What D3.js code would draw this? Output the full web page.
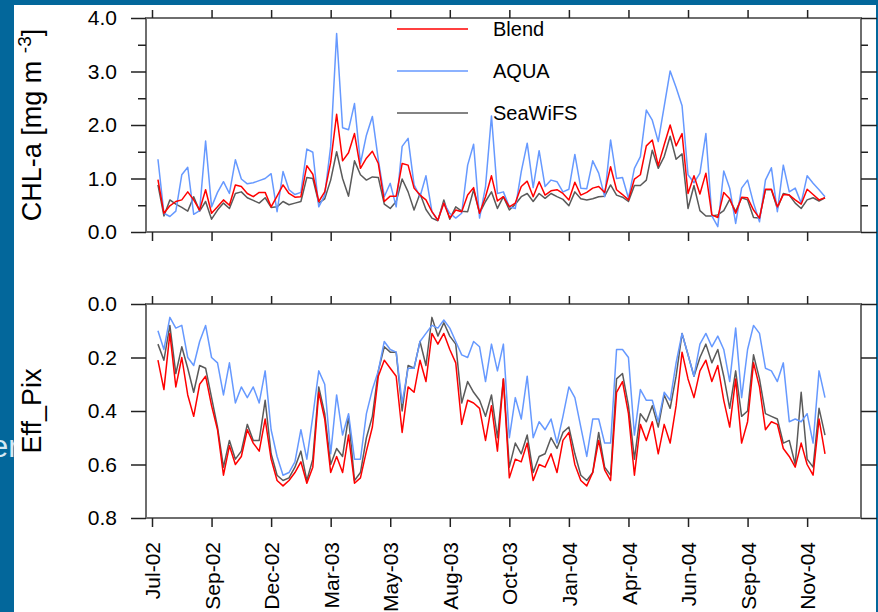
<!DOCTYPE html>
<html>
<head>
<meta charset="utf-8">
<script src="https://cdn.jsdelivr.net/npm/d3@7"></script>
<style>
  body { margin: 0; background: #03679b; overflow: hidden; }
  svg { display: block; font-family: "Liberation Sans", Arial, sans-serif; }
</style>
</head>
<body>
<div class="canvas"></div>
<script>
/////////////////////////////////////////////////////
///////////////// data ///////////////
/////////////////////////////////////////////////////

// one label every 10th composite
const tickLabels = ['Jul-02', 'Sep-02', 'Dec-02', 'Mar-03', 'May-03', 'Aug-03',
    'Oct-03', 'Jan-04', 'Apr-04', 'Jun-04', 'Sep-04', 'Nov-04'];

const seriesNames = ['Blend', 'AQUA', 'SeaWiFS'];

// CHL-a [mg m-3]
const chlBlend = [0.98, 0.35, 0.49, 0.57, 0.60, 0.75, 0.60, 0.41, 0.79, 0.35,
    0.47, 0.60, 0.50, 0.88, 0.85, 0.72, 0.66, 0.74, 0.74, 0.47,
    0.67, 0.88, 0.72, 0.65, 0.66, 1.24, 1.08, 0.57, 0.75, 1.30,
    2.20, 1.33, 1.48, 1.84, 1.19, 1.38, 1.51, 1.28, 0.57, 0.67,
    0.67, 1.28, 1.25, 0.82, 0.69, 0.60, 0.38, 0.22, 0.54, 0.26,
    0.41, 0.38, 0.69, 0.83, 0.35, 0.66, 1.05, 0.58, 0.66, 0.47,
    0.54, 0.85, 0.95, 0.66, 0.94, 0.69, 0.77, 0.79, 0.72, 0.60,
    0.93, 0.69, 0.74, 0.82, 0.85, 0.74, 1.22, 0.79, 0.70, 0.60,
    0.99, 1.07, 1.61, 1.72, 1.24, 1.63, 2.00, 1.61, 1.84, 0.72,
    1.05, 0.71, 1.10, 0.32, 0.27, 0.74, 0.62, 0.35, 0.65, 0.64,
    0.41, 0.26, 0.80, 0.80, 0.47, 0.70, 0.69, 0.60, 0.52, 0.80,
    0.70, 0.60, 0.64];
const chlAqua = [1.36, 0.35, 0.29, 0.39, 1.07, 1.21, 0.33, 0.40, 1.70, 0.47,
    0.74, 0.94, 0.72, 1.35, 0.99, 0.90, 0.92, 0.96, 1.00, 1.09,
    0.38, 1.13, 0.79, 0.70, 0.74, 1.55, 1.49, 0.47, 0.69, 1.60,
    3.71, 1.95, 1.91, 2.40, 1.28, 1.81, 2.16, 1.35, 0.66, 0.91,
    0.47, 1.60, 1.75, 0.88, 0.66, 1.05, 0.38, 0.22, 0.54, 0.35,
    0.26, 0.35, 1.25, 1.64, 0.26, 0.85, 2.17, 0.72, 0.75, 0.47,
    0.44, 1.13, 1.66, 0.83, 1.52, 0.85, 0.97, 0.94, 0.75, 0.80,
    1.45, 0.82, 0.81, 1.33, 1.10, 0.66, 1.72, 1.00, 1.02, 0.63,
    1.19, 1.41, 2.28, 2.09, 1.69, 2.35, 3.01, 2.70, 2.36, 1.07,
    0.92, 1.10, 1.84, 0.30, 0.10, 1.14, 0.82, 0.16, 0.82, 0.97,
    0.54, 0.19, 0.97, 1.20, 0.38, 1.25, 0.75, 0.82, 0.54, 1.05,
    0.91, 0.79, 0.66];
const chlSeawifs = [0.88, 0.30, 0.60, 0.52, 0.46, 0.39, 0.66, 0.39, 0.57, 0.24,
    0.41, 0.54, 0.44, 0.72, 0.75, 0.64, 0.59, 0.54, 0.64, 0.46,
    0.47, 0.57, 0.51, 0.54, 0.57, 1.02, 1.00, 0.54, 0.62, 0.97,
    1.50, 1.00, 0.67, 1.33, 1.07, 0.97, 1.03, 1.02, 0.52, 0.44,
    0.57, 0.99, 0.75, 0.41, 0.72, 0.42, 0.26, 0.21, 0.60, 0.24,
    0.47, 0.39, 0.38, 0.79, 0.35, 0.57, 0.75, 0.44, 0.66, 0.41,
    0.52, 0.66, 0.72, 0.57, 0.72, 0.63, 0.72, 0.66, 0.61, 0.49,
    0.75, 0.62, 0.60, 0.62, 0.66, 0.67, 0.88, 0.69, 0.65, 0.57,
    0.87, 0.87, 0.97, 1.53, 1.19, 1.41, 1.79, 1.36, 1.46, 0.44,
    0.87, 0.40, 0.30, 0.30, 0.32, 0.40, 0.61, 0.38, 0.64, 0.60,
    0.27, 0.26, 0.79, 0.79, 0.44, 0.72, 0.69, 0.54, 0.44, 0.60,
    0.64, 0.58, 0.64];

// Eff_Pix
const pixBlend = [0.21, 0.32, 0.11, 0.31, 0.20, 0.34, 0.42, 0.30, 0.27, 0.38,
    0.47, 0.64, 0.53, 0.60, 0.57, 0.47, 0.52, 0.55, 0.43, 0.58,
    0.66, 0.68, 0.66, 0.63, 0.59, 0.67, 0.61, 0.33, 0.43, 0.63,
    0.57, 0.63, 0.49, 0.67, 0.65, 0.55, 0.46, 0.27, 0.21, 0.24,
    0.27, 0.48, 0.31, 0.33, 0.21, 0.29, 0.11, 0.15, 0.11, 0.17,
    0.22, 0.45, 0.36, 0.37, 0.39, 0.51, 0.38, 0.55, 0.28, 0.65,
    0.58, 0.59, 0.52, 0.66, 0.60, 0.61, 0.56, 0.63, 0.51, 0.48,
    0.60, 0.66, 0.68, 0.63, 0.51, 0.62, 0.66, 0.33, 0.29, 0.41,
    0.64, 0.45, 0.51, 0.44, 0.56, 0.45, 0.52, 0.38, 0.18, 0.28,
    0.35, 0.25, 0.21, 0.29, 0.23, 0.36, 0.46, 0.28, 0.52, 0.44,
    0.22, 0.31, 0.47, 0.44, 0.45, 0.54, 0.57, 0.61, 0.52, 0.60,
    0.64, 0.43, 0.56];
const pixAqua = [0.10, 0.17, 0.05, 0.09, 0.08, 0.20, 0.23, 0.14, 0.08, 0.20,
    0.22, 0.34, 0.22, 0.37, 0.31, 0.35, 0.31, 0.37, 0.25, 0.47,
    0.57, 0.64, 0.63, 0.59, 0.47, 0.58, 0.42, 0.25, 0.30, 0.56,
    0.34, 0.49, 0.41, 0.58, 0.58, 0.41, 0.32, 0.25, 0.14, 0.17,
    0.18, 0.37, 0.24, 0.24, 0.14, 0.11, 0.08, 0.09, 0.06, 0.09,
    0.14, 0.19, 0.20, 0.14, 0.16, 0.29, 0.15, 0.25, 0.15, 0.50,
    0.35, 0.43, 0.27, 0.50, 0.44, 0.47, 0.43, 0.52, 0.42, 0.31,
    0.35, 0.46, 0.57, 0.43, 0.43, 0.52, 0.52, 0.17, 0.17, 0.20,
    0.49, 0.32, 0.36, 0.36, 0.44, 0.33, 0.36, 0.22, 0.11, 0.19,
    0.27, 0.15, 0.11, 0.16, 0.12, 0.17, 0.29, 0.09, 0.35, 0.17,
    0.08, 0.11, 0.24, 0.25, 0.29, 0.22, 0.44, 0.43, 0.44, 0.41,
    0.52, 0.25, 0.35];
const pixSeawifs = [0.15, 0.21, 0.08, 0.26, 0.16, 0.24, 0.33, 0.23, 0.24, 0.35,
    0.46, 0.61, 0.51, 0.58, 0.55, 0.45, 0.51, 0.51, 0.36, 0.56,
    0.64, 0.66, 0.65, 0.61, 0.55, 0.66, 0.58, 0.31, 0.41, 0.60,
    0.54, 0.57, 0.42, 0.66, 0.63, 0.50, 0.42, 0.25, 0.16, 0.18,
    0.18, 0.40, 0.23, 0.24, 0.14, 0.23, 0.05, 0.12, 0.07, 0.12,
    0.15, 0.37, 0.29, 0.33, 0.36, 0.42, 0.34, 0.50, 0.28, 0.61,
    0.52, 0.56, 0.49, 0.63, 0.57, 0.56, 0.50, 0.54, 0.48, 0.46,
    0.56, 0.64, 0.66, 0.63, 0.48, 0.61, 0.64, 0.28, 0.26, 0.38,
    0.58, 0.41, 0.44, 0.38, 0.46, 0.34, 0.39, 0.27, 0.11, 0.19,
    0.27, 0.20, 0.15, 0.22, 0.17, 0.27, 0.39, 0.25, 0.42, 0.40,
    0.19, 0.28, 0.41, 0.42, 0.43, 0.52, 0.51, 0.60, 0.33, 0.58,
    0.61, 0.39, 0.49];

// axis tick values
const chlTicks = [0, 0.5, 1, 1.5, 2, 2.5, 3, 3.5, 4];
const pixTicks = [0, 0.2, 0.4, 0.6, 0.8];

/////////////////////////////////////////////////////
//////////////////// layout /////////////////////////
/////////////////////////////////////////////////////
const dims = { width: 878, height: 612 };
const frame = { left: 146, right: 861 };
const colours = { Blend: '#ff0000', AQUA: '#6699ff', SeaWiFS: '#5a5a5a' };

const svg = d3.select('.canvas')
    .append('svg')
    .attr('width', dims.width)
    .attr('height', dims.height);

// bit of slide text peeking out behind the white panel
svg.append('text')
    .attr('x', -9)
    .attr('y', 457)
    .attr('font-size', 31)
    .attr('fill', '#d6e7f3')
    .text('er');

// white panel
svg.append('rect')
    .attr('x', 14).attr('y', 5)
    .attr('width', 862).attr('height', dims.height)
    .attr('fill', '#fff');

// x scale: index of composite, ticks on every 10th
const x = d3.scaleLinear()
    .domain([-1, chlBlend.length - 1])
    .range([152, 825]);
const xTickVals = tickLabels.map((d, i) => i * 10 - 1);

const panels = [
    { top: 18, bottom: 232, domain: [0, 4], ticks: chlTicks,
      series: [chlBlend, chlAqua, chlSeawifs], reversed: false,
      fmt: d3.format('.1f'), title: 'CHL-a' },
    { top: 304, bottom: 518, domain: [0, 0.8], ticks: pixTicks,
      series: [pixBlend, pixAqua, pixSeawifs], reversed: true,
      fmt: d3.format('.1f'), title: 'Eff_Pix' }
];

const styleAxis = g => {
    g.select('.domain').remove();
    g.selectAll('.tick line').attr('stroke', '#222').attr('stroke-width', 1.5);
    g.selectAll('.tick text')
        .attr('fill', '#000')
        .attr('font-size', 21)
        .attr('font-family', '"Liberation Sans", Arial, sans-serif');
};

panels.forEach((p, pi) => {
    const y = d3.scaleLinear()
        .domain(p.domain)
        .range(p.reversed ? [p.top, p.bottom] : [p.bottom, p.top]);
    const isMajor = d => Math.abs(d - Math.round(d)) < 1e-6 || p.reversed;

    // data lines (SeaWiFS first, Blend on top)
    const line = d3.line()
        .x((d, i) => x(i))
        .y(d => y(d));
    [2, 1, 0].forEach(si => {
        svg.append('path')
            .datum(p.series[si])
            .attr('d', line)
            .attr('fill', 'none')
            .attr('stroke', colours[seriesNames[si]])
            .attr('stroke-width', 1.5)
            .attr('stroke-linejoin', 'round');
    });

    // frame
    svg.append('rect')
        .attr('x', frame.left).attr('y', p.top)
        .attr('width', frame.right - frame.left)
        .attr('height', p.bottom - p.top)
        .attr('fill', 'none')
        .attr('stroke', '#6e6e6e')
        .attr('stroke-width', 2);

    // left axis
    svg.append('g')
        .attr('transform', `translate(${frame.left},0)`)
        .call(d3.axisLeft(y).tickValues(p.ticks).tickSize(15).tickPadding(14)
            .tickFormat(d => isMajor(d) ? p.fmt(d) : ''))
        .call(styleAxis)
        .call(g => g.selectAll('.tick line')
            .attr('x2', d => isMajor(d) ? -15 : -8));

    // right axis, no labels
    svg.append('g')
        .attr('transform', `translate(${frame.right},0)`)
        .call(d3.axisRight(y).tickValues(p.ticks).tickSize(16).tickFormat(''))
        .call(styleAxis)
        .call(g => g.selectAll('.tick line')
            .attr('x2', d => isMajor(d) ? 16 : 7));

    // top x ticks
    svg.append('g')
        .attr('transform', `translate(0,${p.top})`)
        .call(d3.axisTop(x).tickValues(xTickVals).tickSize(8).tickFormat(''))
        .call(styleAxis);

    // bottom x ticks, labels only under the lower panel
    const bottomAxis = svg.append('g')
        .attr('transform', `translate(0,${p.bottom})`)
        .call(d3.axisBottom(x).tickValues(xTickVals).tickSize(9)
            .tickFormat((d, i) => pi === 1 ? tickLabels[i] : ''))
        .call(styleAxis);
    bottomAxis.selectAll('.tick text')
        .attr('transform', 'rotate(-90)')
        .attr('text-anchor', 'end')
        .attr('x', -24)
        .attr('y', 0)
        .attr('dy', '0.36em');

    // y axis title
    const title = svg.append('text')
        .attr('transform', `translate(41,${(p.top + p.bottom) / 2}) rotate(-90)`)
        .attr('text-anchor', 'middle')
        .attr('font-size', 27)
        .text(p.title);
    if (pi === 0) {
        title.append('tspan').text(' [mg m ');
        title.append('tspan')
            .attr('font-size', 19)
            .attr('dy', -10)
            .text('-3');
        title.append('tspan').attr('dy', 10).text(']');
    }
});

/////////////////////////////////////////////////////
//////////////////// legend /////////////////////////
/////////////////////////////////////////////////////
const legend = svg.append('g')
    .attr('transform', 'translate(397,29)');

seriesNames.forEach((name, i) => {
    const row = legend.append('g')
        .attr('transform', `translate(0,${i * 42})`);
    row.append('line')
        .attr('x1', 0).attr('x2', 71)
        .attr('stroke', colours[name])
        .attr('stroke-width', 1.3);
    row.append('text')
        .attr('x', 96)
        .attr('dy', '0.36em')
        .attr('font-size', 20)
        .text(name);
});
</script>
</body>
</html>
